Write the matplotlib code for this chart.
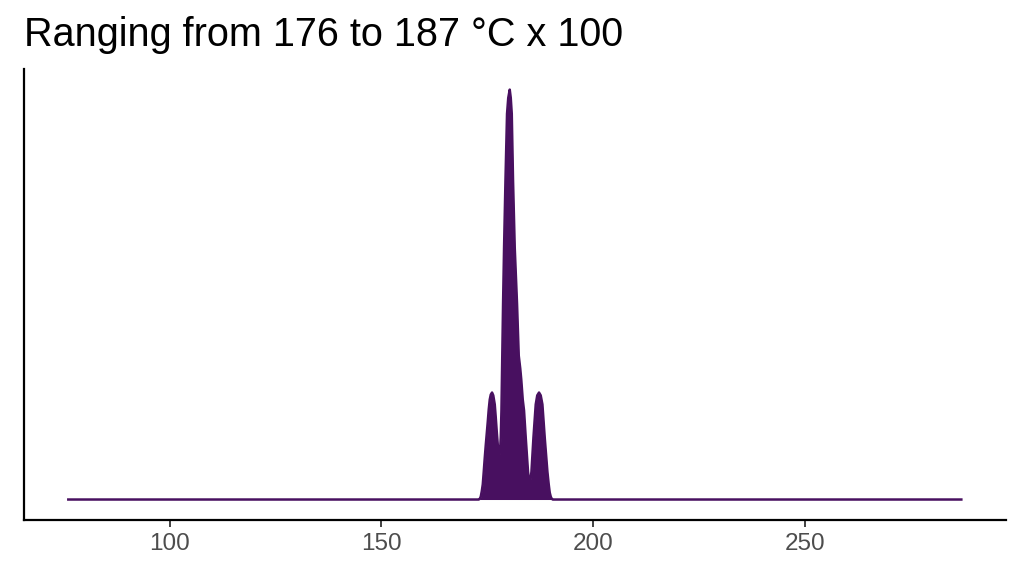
import matplotlib
matplotlib.use("Agg")
import matplotlib.pyplot as plt

# Density curve (temperature, relative density)
temperature = [76.0, 170.86, 172.98, 173.22, 173.45, 173.69, 173.93, 174.16, 174.40,
               174.63, 174.87, 175.11, 175.34, 175.58, 175.82, 176.12, 176.41, 176.76,
               177.00, 177.23, 177.47, 177.71, 177.82, 178.01, 178.18, 178.34, 178.48,
               178.72, 178.96, 179.29, 179.66, 179.95, 180.30, 180.54, 180.78, 181.08,
               181.48, 182.03, 182.43, 182.78, 183.02, 183.37, 183.68, 184.08, 184.62,
               185.03, 185.43, 185.90, 186.44, 186.80, 187.22, 187.62, 188.02, 188.57,
               189.20, 189.51, 189.75, 189.99, 190.22, 190.46, 287.0]
density = [0.0, 0.0, 0.0, 0.002, 0.007, 0.020, 0.037, 0.068, 0.102,
           0.132, 0.161, 0.190, 0.220, 0.244, 0.256, 0.261, 0.254, 0.232,
           0.200, 0.166, 0.134, 0.110, 0.105, 0.117, 0.151, 0.217, 0.312,
           0.476, 0.615, 0.778, 0.941, 0.980, 1.000, 0.980, 0.941, 0.778,
           0.615, 0.476, 0.351, 0.320, 0.293, 0.244, 0.217, 0.151, 0.068,
           0.032, 0.068, 0.151, 0.232, 0.254, 0.261, 0.254, 0.232, 0.151,
           0.068, 0.037, 0.017, 0.007, 0.002, 0.0, 0.0]
x_ticks = [100, 150, 200, 250]
title = "Ranging from 176 to 187 °C x 100"

plt.rcParams['font.family'] = ['Liberation Sans', 'DejaVu Sans']
color = '#481060'

fig = plt.figure(figsize=(10.24, 5.76), dpi=100)
ax = fig.add_axes([0.0231, 0.0972, 0.9593, 0.7828])

ax.fill_between(temperature, density, 0, color=color, linewidth=0)
ax.plot(temperature, density, color=color, linewidth=1.8, solid_joinstyle='round')

xmin, xmax = temperature[0], temperature[-1]
pad = 0.05 * (xmax - xmin)
ax.set_xlim(xmin - pad, xmax + pad)
ax.set_ylim(-0.05, 1.05)

ax.set_xticks(x_ticks)
ax.set_xticklabels([str(t) for t in x_ticks])
ax.set_yticks([])
for s in ['top', 'right']:
    ax.spines[s].set_visible(False)
for s in ['left', 'bottom']:
    ax.spines[s].set_linewidth(1.6)
    ax.spines[s].set_color('black')
ax.tick_params(axis='x', length=5, width=1.3, color='#333333',
               labelsize=17.5, labelcolor='#4D4D4D', pad=4)

fig.text(0.0231, 0.920, title, fontsize=28.5, ha='left', va='baseline', color='black')

fig.savefig('out.png', dpi=100)
